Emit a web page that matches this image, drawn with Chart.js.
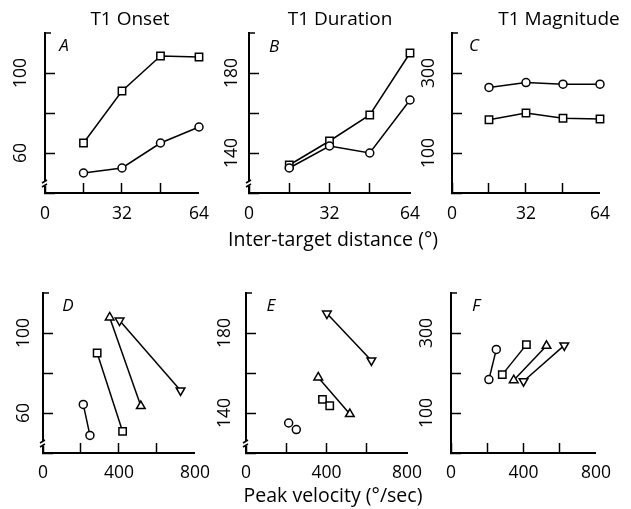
<!DOCTYPE html>
<html>
<head>
<meta charset="utf-8">
<script src="https://cdn.jsdelivr.net/npm/chart.js@4.4.1/dist/chart.umd.min.js"></script>
<style>
  html, body { margin: 0; padding: 0; background: #fff; }
  #fig { position: relative; width: 631px; height: 509px; overflow: hidden; background: #fff; }
  #fig canvas { position: absolute; }
</style>
</head>
<body>
<div id="fig"></div>
<script>
// top row: values against inter-target distance (deg)
const distances = [16, 32, 48, 64];
const onsetCircles = [50, 52.5, 65, 73];
const onsetSquares = [65, 91, 108.5, 108];
const durationCircles = [132.5, 143.5, 140, 166.5];
const durationSquares = [134, 146, 159, 190];
const magnitudeCircles = [264, 276, 272, 272];
const magnitudeSquares = [183, 200, 187, 185];

// bottom row: one pair of points per symbol, against peak velocity (deg/sec)
const symbols = ['circle', 'square', 'up', 'down'];
const velOnset = [[212, 247], [285, 419], [351, 515], [403, 724]];
const onsetPairs = [[64.3, 48.8], [90, 50.8], [107.8, 63.5], [106.2, 71.3]];
const velDuration = [[212, 250], [380, 416], [359, 516], [402, 623]];
const durationPairs = [[135, 131.7], [146.8, 143.6], [157.8, 139.5], [189.7, 166.3]];
const velMagnitude = [[209, 250], [283, 416], [346, 527], [400, 625]];
const magnitudePairs = [[183.6, 259], [196, 271], [182, 268], [179.5, 269]];

// tick labels that are printed (other ticks are unlabelled)
const distLabels = [0, 32, 64];
const velLabels = [0, 400, 800];
const onsetLabels = [60, 100];
const durationLabels = [140, 180];
const magnitudeLabels = [100, 300];

const FONT = '"Open Sans", "DejaVu Sans", sans-serif';
Chart.defaults.font.family = FONT;
Chart.defaults.color = '#000';

const markers = {
  circle: { pointStyle: 'circle', pointRadius: 4, pointRotation: 0 },
  square: { pointStyle: 'rect', pointRadius: 5.2, pointRotation: 0 },
  up: { pointStyle: 'triangle', pointRadius: 5, pointRotation: 0 },
  down: { pointStyle: 'triangle', pointRadius: 5, pointRotation: 180 }
};

function series(sym, xs, ys, showLine) {
  const m = markers[sym];
  return {
    data: xs.map((x, i) => ({ x: x, y: ys[i] })),
    showLine: showLine,
    borderColor: '#000',
    borderWidth: 1.5,
    backgroundColor: '#fff',
    pointStyle: m.pointStyle,
    pointRadius: m.pointRadius,
    pointHoverRadius: m.pointRadius,
    pointRotation: m.pointRotation,
    pointBackgroundColor: '#fff',
    pointBorderColor: '#000',
    pointBorderWidth: 1.5,
    clip: false
  };
}

// headings, panel letters, axis titles, the short cap tick and the axis break
// (axis titles drawn here: the scale title gets squeezed to the plot width)
const panelDeco = {
  id: 'panelDeco',
  afterDraw(chart, args, o) {
    const { ctx, chartArea: a } = chart;
    const y = chart.scales.y;
    const ox = o.origin[0], oy = o.origin[1];
    ctx.save();
    ctx.fillStyle = '#000';
    ctx.strokeStyle = '#000';
    ctx.textAlign = 'center';
    ctx.textBaseline = 'middle';
    if (o.title) {
      ctx.font = '19px ' + FONT;
      ctx.fillText(o.title, o.title_at[0] - ox, o.title_at[1] - oy);
    }
    if (o.xTitle) {
      ctx.font = '19.5px ' + FONT;
      ctx.fillText(o.xTitle, o.xTitle_at[0] - ox, o.xTitle_at[1] - oy);
    }
    ctx.font = 'italic 17px ' + FONT;
    ctx.fillText(o.letter, o.letter_at[0] - ox, o.letter_at[1] - oy);

    const top = y.getPixelForValue(y.max);
    ctx.lineWidth = 1.5;
    ctx.beginPath();
    ctx.moveTo(a.left, top);
    ctx.lineTo(a.left + 6, top);
    ctx.stroke();

    if (o.broken) {
      const x = a.left, b = a.bottom;
      ctx.fillStyle = '#fff';
      ctx.fillRect(x - 3, b - 12, 6, 5);
      ctx.lineWidth = 1.5;
      ctx.beginPath();
      ctx.moveTo(x - 3, b - 6);
      ctx.lineTo(x + 2, b - 9);
      ctx.moveTo(x - 3, b - 10);
      ctx.lineTo(x + 2, b - 13);
      ctx.stroke();
    }
    ctx.restore();
  }
};

const fig = document.getElementById('fig');

function axis(min, max, step, labels, extra) {
  return Object.assign({
    type: 'linear',
    min: min,
    max: max,
    border: { display: true, color: '#000', width: 2 },
    grid: {
      display: true,
      drawOnChartArea: false,
      drawTicks: true,
      tickLength: -10,
      tickWidth: 1.5,
      tickColor: c => (c.tick && c.tick.value === max ? 'rgba(0,0,0,0)' : '#000')
    }
  }, extra, {
    ticks: Object.assign({
      stepSize: step,
      autoSkip: false,
      color: '#000',
      font: { size: 17.5 },
      callback: v => (labels.includes(v) ? String(v) : '')
    }, extra.ticks)
  });
}

function panel(p) {
  const [bl, bt, bw, bh] = p.box;
  const [l, t, r, b] = p.area;
  const yAxisW = 40;
  const xAxisH = bt + bh - b;
  const canvas = document.createElement('canvas');
  canvas.width = bw;
  canvas.height = bh;
  canvas.style.left = bl + 'px';
  canvas.style.top = bt + 'px';
  fig.appendChild(canvas);

  new Chart(canvas, {
    type: 'scatter',
    data: { datasets: p.datasets },
    options: {
      responsive: false,
      animation: false,
      devicePixelRatio: 1,
      layout: { padding: { left: l - bl - yAxisW, right: bl + bw - r, top: t - bt, bottom: 0 } },
      scales: {
        x: axis(p.x[0], p.x[1], p.x[2], p.x[3], {
          afterFit: s => { s.height = xAxisH; },
          ticks: { maxRotation: 0, minRotation: 0, padding: p.xPad }
        }),
        y: axis(p.y[0], p.y[1], p.y[2], p.y[3], {
          afterFit: s => { s.width = yAxisW; },
          ticks: { minRotation: 90, maxRotation: 90, crossAlign: 'center', padding: p.yPad }
        })
      },
      plugins: {
        legend: { display: false },
        tooltip: { enabled: false },
        panelDeco: {
          origin: [bl, bt],
          title: p.title,
          title_at: p.titleAt,
          xTitle: p.xTitle,
          xTitle_at: p.xTitleAt,
          letter: p.letter,
          letter_at: p.letterAt,
          broken: p.broken
        }
      }
    },
    plugins: [panelDeco]
  });
}

const distAxis = [0, 64, 16, distLabels];
const velAxis = [0, 800, 200, velLabels];

function pairSets(xs, ys, lines) {
  return symbols.map((s, k) => series(s, xs[k], ys[k], lines[k]));
}

panel({
  box: [-3, 0, 233, 255], area: [45, 33, 207, 193],
  x: distAxis, y: [40, 120, 20, onsetLabels], xPad: 21, yPad: 19,
  title: 'T1 Onset', titleAt: [130, 20], letter: 'A', letterAt: [64, 46], broken: true,
  datasets: [series('circle', distances, onsetCircles, true), series('square', distances, onsetSquares, true)]
});
panel({
  box: [200, 0, 250, 255], area: [249, 33, 410, 193],
  x: distAxis, y: [120, 200, 20, durationLabels], xPad: 21, yPad: 12,
  xTitle: 'Inter-target distance (°)', xTitleAt: [333, 240],
  title: 'T1 Duration', titleAt: [340, 20], letter: 'B', letterAt: [274, 47], broken: true,
  datasets: [series('circle', distances, durationCircles, true), series('square', distances, durationSquares, true)]
});
panel({
  box: [405, 0, 226, 255], area: [452, 33, 612, 193],
  x: distAxis, y: [0, 400, 100, magnitudeLabels], xPad: 21, yPad: 18.4,
  title: 'T1 Magnitude', titleAt: [559, 20], letter: 'C', letterAt: [474, 46], broken: false,
  datasets: [series('circle', distances, magnitudeCircles, true), series('square', distances, magnitudeSquares, true)]
});
panel({
  box: [-3, 250, 233, 259], area: [43, 293, 204, 453],
  x: velAxis, y: [40, 120, 20, onsetLabels], xPad: 20, yPad: 14,
  letter: 'D', letterAt: [68, 306], broken: true,
  datasets: pairSets(velOnset, onsetPairs, [true, true, true, true])
});
panel({
  box: [200, 250, 250, 259], area: [246, 293, 407, 453],
  x: velAxis, y: [120, 200, 20, durationLabels], xPad: 20, yPad: 15.6,
  xTitle: 'Peak velocity (°/sec)', xTitleAt: [333, 496],
  letter: 'E', letterAt: [271, 306], broken: true,
  datasets: pairSets(velDuration, durationPairs, [false, false, true, true])
});
panel({
  box: [405, 250, 226, 259], area: [451, 293, 612, 453],
  x: velAxis, y: [0, 400, 100, magnitudeLabels], xPad: 20, yPad: 19,
  letter: 'F', letterAt: [476, 306], broken: false,
  datasets: pairSets(velMagnitude, magnitudePairs, [true, true, true, true])
});
</script>
</body>
</html>
